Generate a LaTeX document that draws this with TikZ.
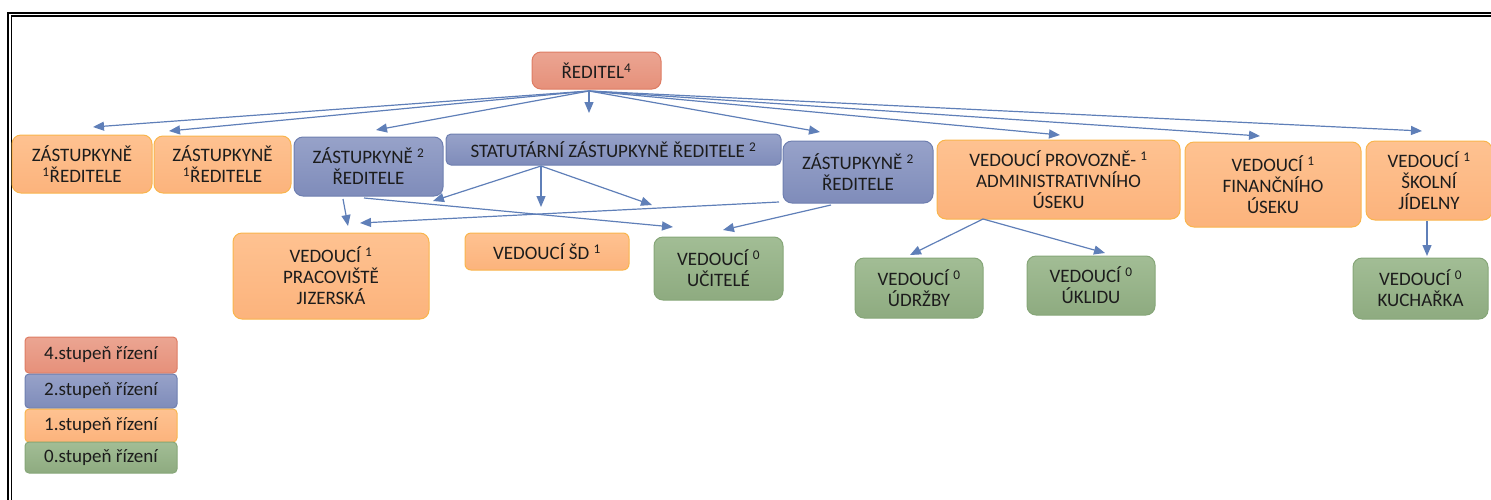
\documentclass[tikz,border=0pt]{standalone}
\usepackage{fontspec}
\setmainfont{Carlito}
\usetikzlibrary{arrows.meta,calc}
\definecolor{txt}{HTML}{1C1C1C}
\definecolor{redT}{HTML}{EBA592}
\definecolor{redB}{HTML}{E6907A}
\definecolor{redD}{HTML}{DE7C63}
\definecolor{bluT}{HTML}{97A2C9}
\definecolor{bluB}{HTML}{7F8CBA}
\definecolor{bluD}{HTML}{6E7FB0}
\definecolor{oraT}{HTML}{FEC291}
\definecolor{oraB}{HTML}{FCB37C}
\definecolor{oraD}{HTML}{F9B54C}
\definecolor{greT}{HTML}{A2BD95}
\definecolor{greB}{HTML}{8EAB80}
\definecolor{greD}{HTML}{86A678}
\definecolor{arr}{HTML}{5F7FB8}
\tikzset{
  box/.style={rounded corners=9pt, draw, line width=1pt, inner sep=0pt, align=center,
    font=\fontsize{19}{21}\selectfont, text=txt},
  lvfour/.style={box, draw=redD, top color=redT, bottom color=redB},
  lvtwo/.style={box, draw=bluD, top color=bluT, bottom color=bluB},
  lvone/.style={box, draw=oraD, top color=oraT, bottom color=oraB},
  lvzero/.style={box, draw=greD, top color=greT, bottom color=greB},
  legend/.style={rounded corners=4pt, minimum width=152pt},
  conn/.style={draw=arr, line width=1.2pt, -{Triangle[length=11pt,width=9pt]}},
}
\begin{document}
\begin{tikzpicture}[x=1pt, y=-1pt]
\useasboundingbox (0,0) rectangle (1491,499);
\clip (0,0) rectangle (1491,499);
% frame
\draw[line width=2pt] (7.5,520) -- (7.5,12.5) -- (1510,12.5);
\draw[line width=1.2pt] (11.5,520) -- (11.5,16) -- (1510,16);

% nodes
\node[lvfour, minimum width=129pt, minimum height=37pt] (red) at (596.5,70.5) {ŘEDITEL\textsuperscript{4}};

\node[lvone, minimum width=140pt, minimum height=58pt] (z1) at (82,164) {ZÁSTUPKYNĚ\\\textsuperscript{1}ŘEDITELE};
\node[lvone, minimum width=137pt, minimum height=57pt] (z2) at (222.5,164.5) {ZÁSTUPKYNĚ\\\textsuperscript{1}ŘEDITELE};
\node[lvtwo, minimum width=149pt, minimum height=59pt] (z3) at (368.5,166.5) {ZÁSTUPKYNĚ \textsuperscript{2}\\ŘEDITELE};
\node[lvtwo, rounded corners=5pt, minimum width=335pt, minimum height=31pt] (stat) at (613.5,149.5) {STATUTÁRNÍ ZÁSTUPKYNĚ ŘEDITELE \textsuperscript{2}};
\node[lvtwo, minimum width=150pt, minimum height=62pt] (z4) at (858,172) {ZÁSTUPKYNĚ \textsuperscript{2}\\ŘEDITELE};
\node[lvone, minimum width=243pt, minimum height=79pt] (prov) at (1058.5,179.5) {VEDOUCÍ PROVOZNĚ- \textsuperscript{1}\\ADMINISTRATIVNÍHO\\ÚSEKU};
\node[lvone, minimum width=176pt, minimum height=85pt] (fin) at (1273,184.5) {VEDOUCÍ \textsuperscript{1}\\FINANČNÍHO\\ÚSEKU};
\node[lvone, minimum width=126pt, minimum height=79pt] (jid) at (1429,180.5) {VEDOUCÍ \textsuperscript{1}\\ŠKOLNÍ\\JÍDELNY};

\node[lvone, minimum width=196pt, minimum height=86pt] (jiz) at (331,276) {VEDOUCÍ \textsuperscript{1}\\PRACOVIŠTĚ\\JIZERSKÁ};
\node[lvone, rounded corners=6pt, minimum width=164pt, minimum height=37pt] (sd) at (547,251.5) {VEDOUCÍ ŠD \textsuperscript{1}};
\node[lvzero, minimum width=129pt, minimum height=63pt] (uc) at (718.5,268.5) {VEDOUCÍ \textsuperscript{0}\\UČITELÉ};
\node[lvzero, minimum width=128pt, minimum height=60pt] (ud) at (919,288) {VEDOUCÍ \textsuperscript{0}\\ÚDRŽBY};
\node[lvzero, minimum width=128pt, minimum height=59pt] (uk) at (1091,285.5) {VEDOUCÍ \textsuperscript{0}\\ÚKLIDU};
\node[lvzero, minimum width=135pt, minimum height=61pt] (ku) at (1420.5,288.5) {VEDOUCÍ \textsuperscript{0}\\KUCHAŘKA};

% legend
\node[lvfour, legend, minimum height=36pt] (l4) at (101,355) {4.stupeň řízení};
\node[lvtwo, legend, minimum height=34pt] (l2) at (101,391) {2.stupeň řízení};
\node[lvone, legend, minimum height=33pt] (l1) at (101,425.5) {1.stupeň řízení};
\node[lvzero, legend, minimum height=31pt] (l0) at (101,457.5) {0.stupeň řízení};

% connector end points
\coordinate (ro) at (589,91);
\coordinate (so) at (541,166);
\coordinate (t-z1) at (93,127);
\coordinate (t-z2) at (169,131);
\coordinate (t-z3) at (376,130);
\coordinate (t-stat) at (589,113);
\coordinate (t-z4) at (820,132);
\coordinate (t-prov) at (1060,135);
\coordinate (t-fin) at (1260,136);
\coordinate (t-jid) at (1422,131);
\coordinate (s-a) at (433,201);
\coordinate (s-b) at (541,207);
\coordinate (s-c) at (652,205);
\coordinate (z3a) at (343,199);
\coordinate (z3b) at (364,198);
\coordinate (jiz-a) at (348,226);
\coordinate (uc-a) at (673,227);
\coordinate (z4a) at (779,202);
\coordinate (z4b) at (831,205);
\coordinate (jiz-b) at (360,223);
\coordinate (uc-b) at (723,230);
\coordinate (po) at (983,219);
\coordinate (ud-t) at (910,255);
\coordinate (uk-t) at (1105,253);
\coordinate (jo) at (1427,221);
\coordinate (ku-t) at (1427,256);

% connectors
\foreach \t in {t-z1,t-z2,t-z3,t-stat,t-z4,t-prov,t-fin,t-jid}
  \draw[conn] (ro) -- (\t);
\draw[conn] (so) -- (s-a);
\draw[conn] (so) -- (s-b);
\draw[conn] (so) -- (s-c);
\draw[conn] (z3a) -- (jiz-a);
\draw[conn] (z3b) -- (uc-a);
\draw[conn] (z4a) -- (jiz-b);
\draw[conn] (z4b) -- (uc-b);
\draw[conn] (po) -- (ud-t);
\draw[conn] (po) -- (uk-t);
\draw[conn] (jo) -- (ku-t);
\end{tikzpicture}
\end{document}
